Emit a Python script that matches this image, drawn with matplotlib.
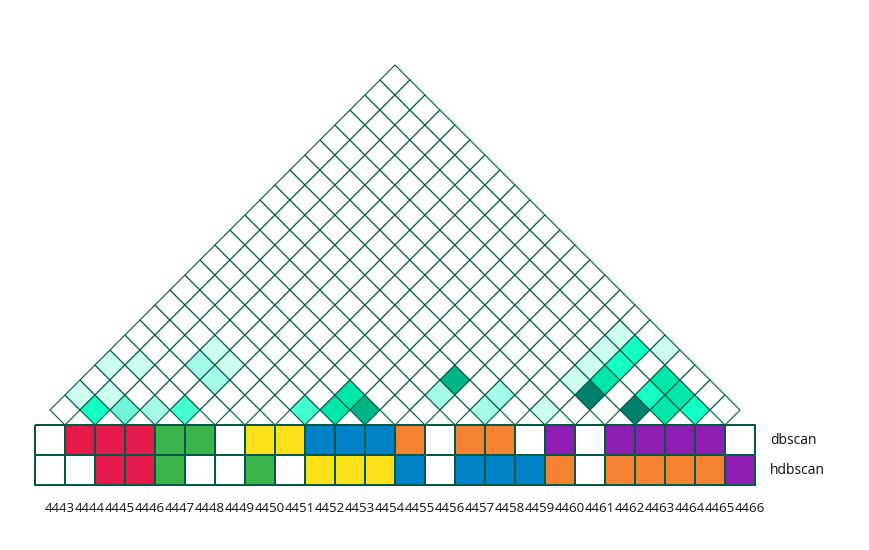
import numpy as np
import matplotlib
matplotlib.use("Agg")
import matplotlib.pyplot as plt
from matplotlib.collections import PolyCollection
from matplotlib.colors import ListedColormap, BoundaryNorm

# item ids along the bottom
ids = [str(n) for n in range(4443, 4467)]
row_names = ["dbscan", "hdbscan"]

# cluster label per item, -1 = noise
dbscan = [-1, 0, 0, 0, 1, 1, -1, 2, 2, 3, 3, 3, 4, -1, 4, 4, -1, 5, -1, 5, 5, 5, 5, -1]
hdbscan = [-1, -1, 0, 0, 1, -1, -1, 1, -1, 2, 2, 2, 3, -1, 3, 3, 3, 4, -1, 4, 4, 4, 4, 5]
cluster_colors = ["#e6194b", "#3cb44b", "#ffe119", "#0082c8", "#f58231", "#911eb4"]

# pairwise score level (0 = none) for the non-empty pairs (i, j)
pair_i = [0, 1, 0, 1, 1, 2, 3, 4, 8, 3, 3, 4, 4, 9, 9, 10, 12, 12, 14, 14, 16,
          16, 16, 16, 16, 17, 17, 17, 17, 18, 19, 19, 19, 20, 20, 21]
pair_j = [2, 3, 4, 5, 2, 3, 4, 5, 9, 7, 8, 7, 8, 10, 11, 11, 14, 15, 15, 16, 17,
          19, 20, 21, 22, 19, 20, 21, 22, 23, 20, 21, 22, 21, 22, 22]
pair_level = [1, 1, 1, 1, 5, 3, 2, 4, 4, 2, 1, 2, 1, 6, 6, 7, 2, 7, 2, 2, 1,
              1, 1, 1, 1, 8, 6, 5, 5, 1, 8, 5, 6, 6, 6, 5]
level_colors = ["#ffffff", "#ccfff0", "#a5fce6", "#70f5d8", "#44ffd0",
                "#14ffc4", "#00e5a8", "#00b585", "#00806a"]

n = len(ids)
edge = "#005a46"

fig = plt.figure(figsize=(8.7, 5.5), dpi=100)
ax = fig.add_axes([0, 0, 1, 1])

# triangle of diamonds
score = np.zeros((n, n))
for i, j, v in zip(pair_i, pair_j, pair_level):
    score[i, j] = v
verts, vals = [], []
for i in range(n):
    for j in range(i + 1, n):
        cx = (i + j + 1) / 2
        cy = (j - i) / 2
        verts.append([(cx - 0.5, cy), (cx, cy + 0.5), (cx + 0.5, cy), (cx, cy - 0.5)])
        vals.append(score[i, j])
tri_cmap = ListedColormap(level_colors)
tri_norm = BoundaryNorm(np.arange(-0.5, len(level_colors)), len(level_colors))
pc = PolyCollection(verts, cmap=tri_cmap, norm=tri_norm, edgecolors=edge, linewidths=0.8)
pc.set_array(np.array(vals))
ax.add_collection(pc)

# cluster rows
cell_cmap = ListedColormap(["#ffffff"] + cluster_colors)
cell_norm = BoundaryNorm(np.arange(-1.5, len(cluster_colors)), len(cluster_colors) + 1)
ax.pcolormesh(np.arange(n + 1), [0, -1, -2], np.array([dbscan, hdbscan]),
              cmap=cell_cmap, norm=cell_norm, edgecolors=edge, linewidth=1.3)

for k, name in enumerate(row_names):
    ax.text(n + 0.5, -0.5 - k, name, ha="left", va="center",
            fontsize=10, family="Open Sans", color="#111111")
for k, lab in enumerate(ids):
    ax.text(k + 0.82, -2.8, lab, ha="center", va="center",
            fontsize=9.5, family="Open Sans", color="#111111")

ax.set_xlim(-35 / 30, 835 / 30)
ax.set_ylim(-125 / 30, 425 / 30)
ax.axis("off")
fig.savefig("out.png", dpi=100)
